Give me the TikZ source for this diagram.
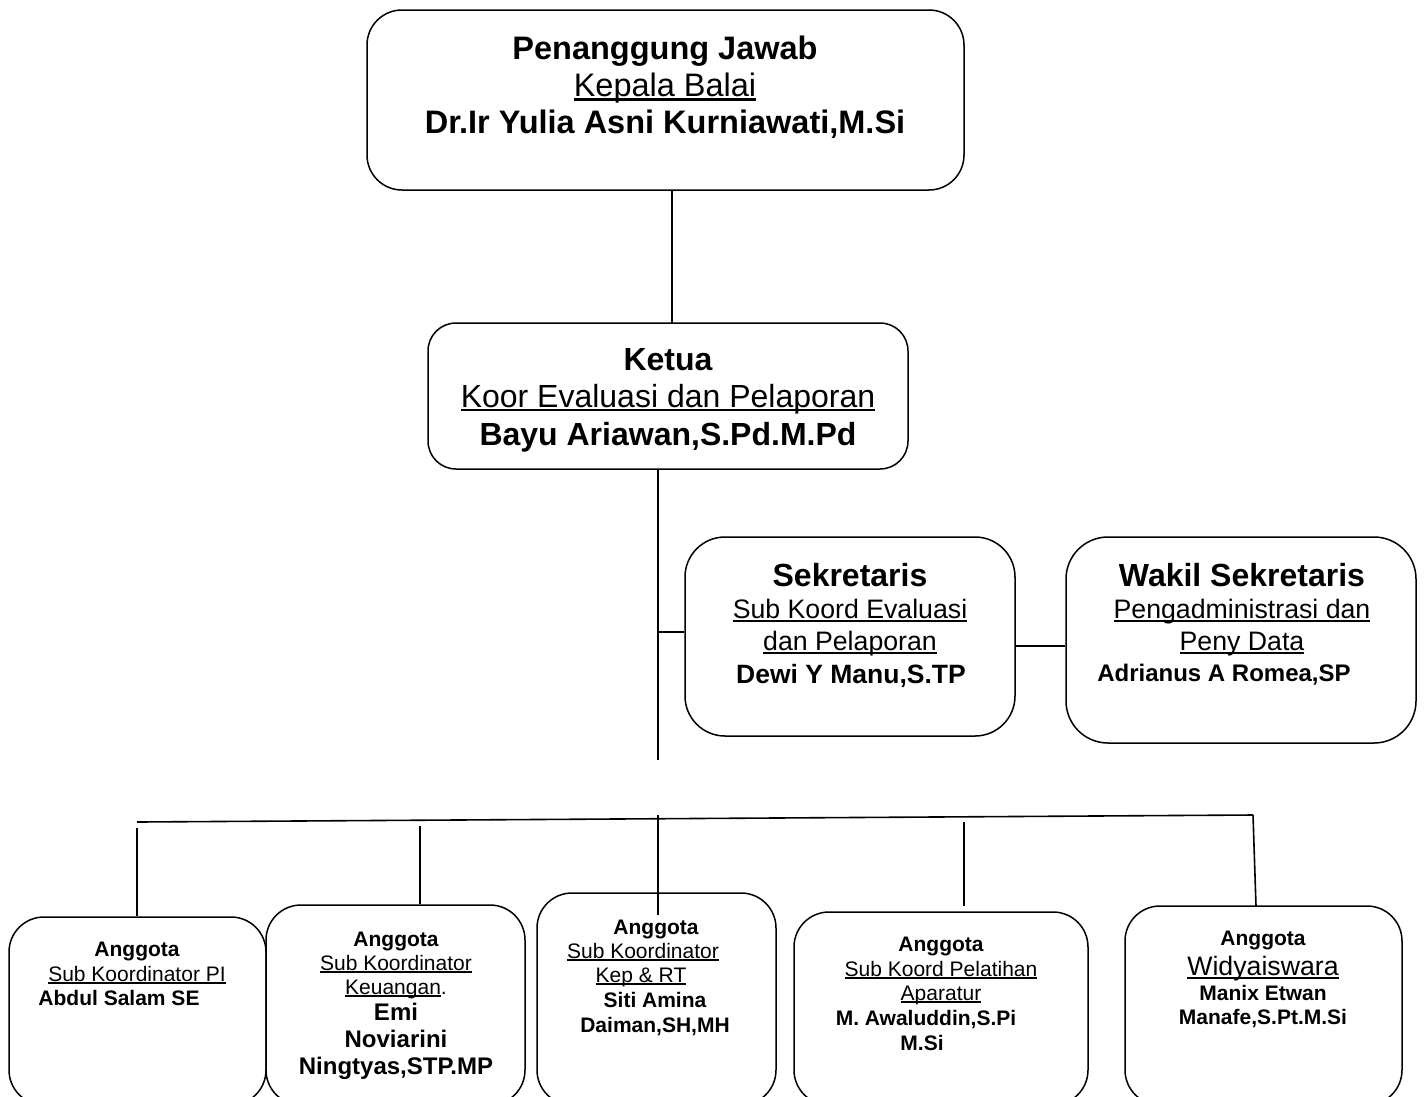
\documentclass[tikz,border=0pt]{standalone}
\usepackage{fontspec}
\setmainfont{Liberation Sans}
\newcommand\ulx[1]{\setbox0\hbox{#1}\rlap{\rule[-0.14em]{\wd0}{0.07em}}\box0}
\tikzset{
  box/.style={draw, line width=1.5pt, inner sep=0pt, rounded corners=#1},
  box/.default=35pt,
  conn/.style={line width=1.6pt},
  txt/.style={anchor=base, inner sep=0pt},
  hb/.style={txt, font=\fontsize{32}{36}\selectfont\bfseries},
  hr/.style={txt, font=\fontsize{32}{36}\selectfont},
  tb/.style={txt, font=\fontsize{32.5}{36}\selectfont\bfseries},
  tr/.style={txt, font=\fontsize{32.5}{36}\selectfont},
  sr/.style={txt, font=\fontsize{26.7}{30}\selectfont},
  sb/.style={txt, font=\fontsize{24}{28}\selectfont\bfseries},
  ab/.style={txt, font=\fontsize{21}{24}\selectfont\bfseries},
  ar/.style={txt, font=\fontsize{21}{24}\selectfont},
}
\begin{document}
\begin{tikzpicture}[x=1pt,y=-1pt]
\useasboundingbox (0,0) rectangle (1424,1096);
% boxes
\node[box=35pt, minimum width=597pt, minimum height=180pt] (top) at (665.5,100) {};
\node[box=28pt, minimum width=480pt, minimum height=146pt] (ketua) at (668,396) {};
\node[box=40pt, minimum width=330pt, minimum height=199pt] (sek) at (850,636.5) {};
\node[box=42pt, minimum width=350pt, minimum height=206pt] (wakil) at (1241,640) {};
\node[box, minimum width=257pt, minimum height=188pt] (b1) at (137.5,1011) {};
\node[box, minimum width=259pt, minimum height=200pt] (b2) at (395.5,1005) {};
\node[box, minimum width=239pt, minimum height=212pt] (b3) at (656.5,999) {};
\node[box, minimum width=294pt, minimum height=193pt] (b4) at (941,1008.5) {};
\node[box, minimum width=277pt, minimum height=199pt] (b5) at (1263.5,1005.5) {};
% texts top
\node[tb] (t1) at (665,59) {Penanggung Jawab};
\node[tr] (t2) at (665,96) {\ulx{Kepala Balai}};
\node[tb] (t3) at (665,133) {Dr.Ir Yulia Asni Kurniawati,M.Si};
% ketua
\node[hb] (k1) at (668,370) {Ketua};
\node[hr] (k2) at (668,407) {\ulx{Koor Evaluasi dan Pelaporan}};
\node[hb] (k3) at (668,445) {Bayu Ariawan,S.Pd.M.Pd};
% sekretaris
\node[hb] (s1) at (850,586) {Sekretaris};
\node[sr] (s2) at (850,618) {\ulx{Sub Koord Evaluasi}};
\node[sr] (s3) at (850,650) {\ulx{dan Pelaporan}};
\node[sb, font=\fontsize{26.5}{30}\selectfont\bfseries] (s4) at (851,683) {Dewi Y Manu,S.TP};
% wakil
\node[hb] (w1) at (1242,586) {Wakil Sekretaris};
\node[sr] (w2) at (1242,618) {\ulx{Pengadministrasi dan}};
\node[sr] (w3) at (1242,650) {\ulx{Peny Data}};
\node[sb] (w4) at (1224,681) {Adrianus A Romea,SP};
% b1
\node[ab] (a1) at (137,956) {Anggota};
\node[ar] (a2) at (137,981) {\ulx{Sub Koordinator PI}};
\node[ab] (a3) at (119,1005) {Abdul Salam SE};
% b2
\node[ab] (c1) at (396,946) {Anggota};
\node[ar] (c2) at (396,970) {\ulx{Sub Koordinator}};
\node[ar] (c3) at (396,994) {\ulx{Keuangan}.};
\node[sb] (c4) at (396,1020) {Emi};
\node[sb] (c5) at (396,1047) {Noviarini};
\node[sb] (c6) at (396,1074) {Ningtyas,STP.MP};
% b3
\node[ab] (e1) at (656,934) {Anggota};
\node[ar] (e2) at (643,958) {\ulx{Sub Koordinator}};
\node[ar] (e3) at (641,982) {\ulx{Kep \& RT}};
\node[ab] (e4) at (655,1007) {Siti Amina};
\node[ab] (e5) at (655,1032) {Daiman,SH,MH};
% b4
\node[ab] (f1) at (941,951) {Anggota};
\node[ar] (f2) at (941,976) {\ulx{Sub Koord Pelatihan}};
\node[ar] (f3) at (941,1000) {\ulx{Aparatur}};
\node[ab] (f4) at (926,1025) {M. Awaluddin,S.Pi};
\node[ab] (f5) at (922,1050) {M.Si};
% b5
\node[ab] (g1) at (1263,945) {Anggota};
\node[sr] (g2) at (1263,975) {\ulx{Widyaiswara}};
\node[ab] (g3) at (1263,1000) {Manix Etwan};
\node[ab] (g4) at (1263,1024) {Manafe,S.Pt.M.Si};
% connectors
\coordinate (ck) at (672,323);
\draw[conn] (ck |- top.south) -- (ck);
\coordinate (trunk) at (658,760);
\draw[conn] (trunk |- ketua.south) -- (trunk);
\coordinate (br) at (658,632);
\draw[conn] (br) -- (br -| sek.west);
\coordinate (sw) at (1040,646);
\draw[conn] (sw -| sek.east) -- (sw -| wakil.west);
\coordinate (busL) at (137,822);
\coordinate (busR) at (1253,815);
\draw[conn] (busL) -- (busR);
\coordinate (d1) at (137,828);
\draw[conn] (d1) -- (d1 |- b1.north);
\coordinate (d2) at (420,826);
\draw[conn] (d2) -- (d2 |- b2.north);
\coordinate (d3) at (658,815);
\coordinate (d3e) at (658,915);
\draw[conn] (d3) -- (d3e);
\coordinate (d4) at (964,822);
\coordinate (d4e) at (964,906);
\draw[conn] (d4) -- (d4e);
\coordinate (d5e) at (1256,906);
\draw[conn] (busR) -- (d5e);
\end{tikzpicture}
\end{document}
